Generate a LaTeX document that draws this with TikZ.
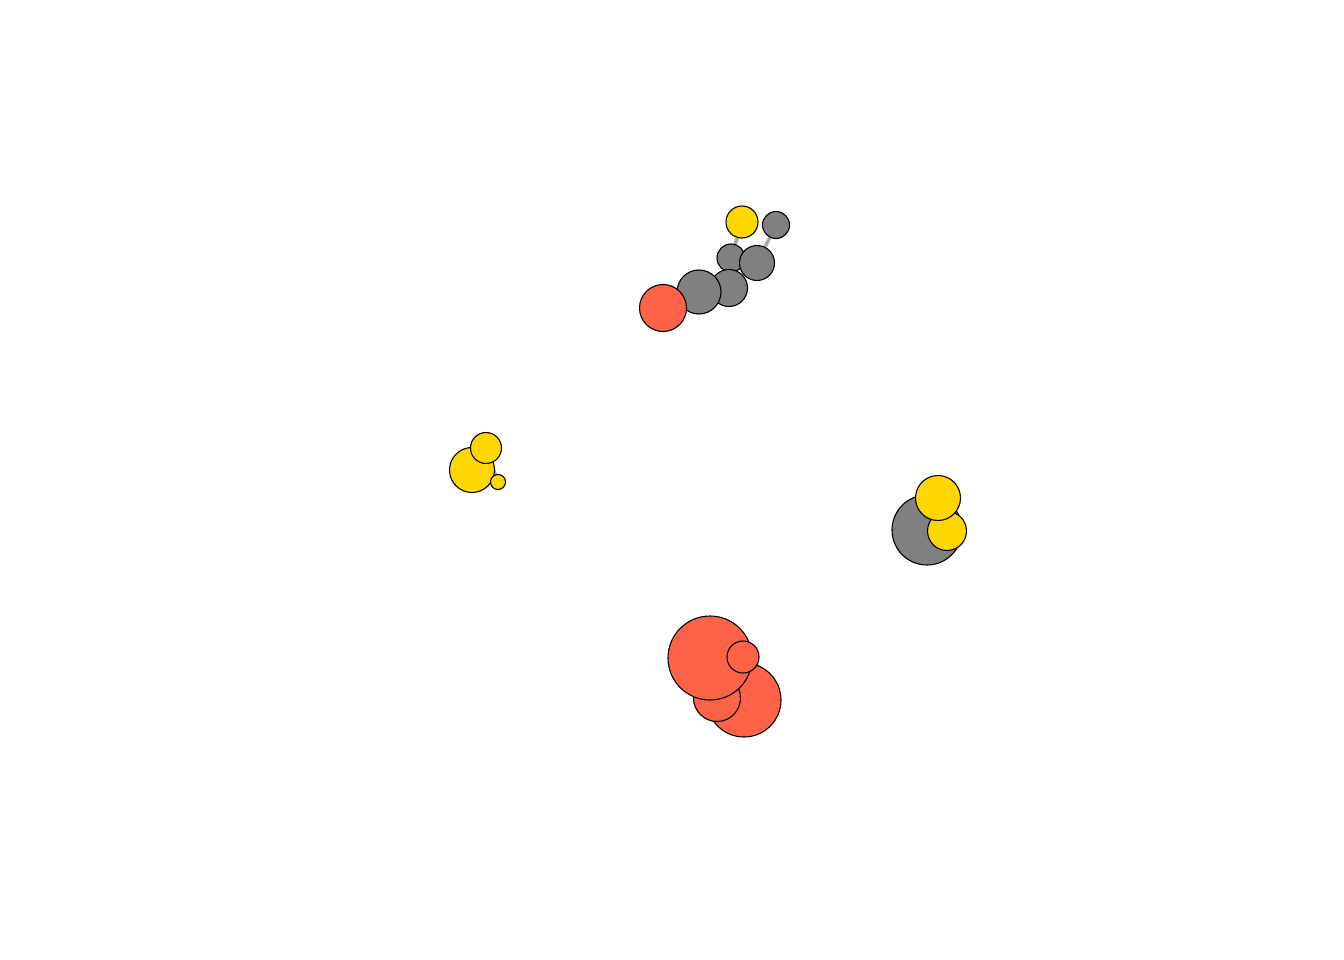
\documentclass[tikz,border=0pt]{standalone}
\usepackage{xcolor}
\usepackage{tikz}
\usetikzlibrary{backgrounds}

\definecolor{vtomato}{HTML}{FF6347}
\definecolor{vgold}{HTML}{FFD700}
\definecolor{vgrey}{HTML}{808080}
\definecolor{egrey}{HTML}{A8A8A8}

\begin{document}
\begin{tikzpicture}[
        x=1pt, y=-1pt,
        % --- vertex looks ---
        vertex/.style={circle, draw=black, line width=1.1pt, inner sep=0pt},
        red/.style={vertex, fill=vtomato},
        gold/.style={vertex, fill=vgold},
        grey/.style={vertex, fill=vgrey},
        every edge/.style={draw=egrey, line width=3.5pt}
    ]
    \useasboundingbox (0,0) rectangle (1344,960);

    % ==================== 1. TOP CLUSTER ====================
    \node[gold, minimum size=32pt] (ta) at (742,222) {};
    \node[grey, minimum size=27pt] (tb) at (776,225) {};
    \node[grey, minimum size=28pt] (tc) at (731,258) {};
    \node[grey, minimum size=35pt] (td) at (757,263) {};
    \node[grey, minimum size=37pt] (te) at (729,288) {};
    \node[grey, minimum size=44pt] (tf) at (699,292) {};
    \node[red,  minimum size=47pt] (tg) at (663,308) {};

    % ==================== 2. LEFT CLUSTER ====================
    \node[gold, minimum size=45pt] (la) at (472,470) {};
    \node[gold, minimum size=31pt] (lb) at (486,448) {};
    \node[gold, minimum size=15pt] (lc) at (498,482) {};

    % ==================== 3. RIGHT CLUSTER ====================
    \node[grey, minimum size=70pt] (ra) at (927,530) {};
    \node[gold, minimum size=39pt] (rb) at (947,531) {};
    \node[gold, minimum size=45pt] (rc) at (938,498) {};

    % ==================== 4. BOTTOM CLUSTER ====================
    \node[red, minimum size=74pt] (ba) at (744,700) {};
    \node[red, minimum size=47pt] (bb) at (717,698) {};
    \node[red, minimum size=84pt] (bc) at (710,658) {};
    \node[red, minimum size=32pt] (bd) at (743,657) {};

    % edges behind the vertices
    \begin{pgfonlayer}{background}
    \path
        (ta) edge (tc)
        (tb) edge (td)
        (lb) edge (lc);
    \end{pgfonlayer}

\end{tikzpicture}
\end{document}
